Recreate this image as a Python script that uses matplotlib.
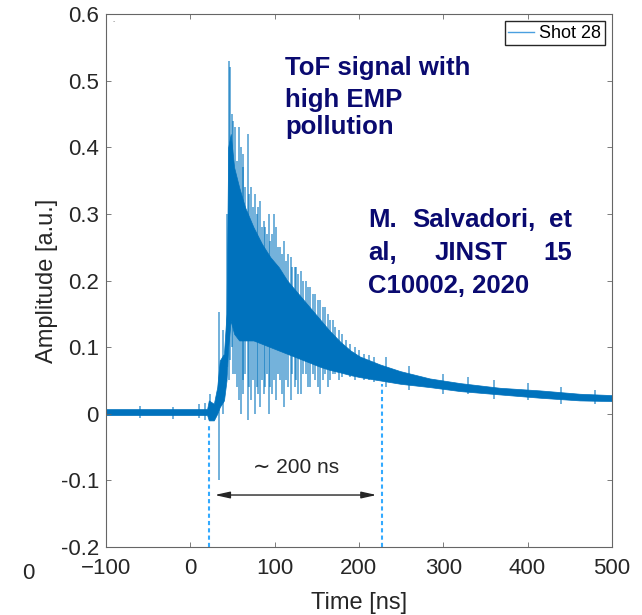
import matplotlib
matplotlib.use("Agg")
import matplotlib.pyplot as plt
from matplotlib.lines import Line2D

plt.rcParams["font.family"] = ["Liberation Sans", "DejaVu Sans"]

C_SIGNAL = "#0072BD"
C_MARK = "#33AAFF"
C_NAVY = "#0A0A70"
C_TEXT = "#262626"

# dense core of the ToF trace (time in ns, amplitude in a.u.)
TIME_ENV = [-100, 20, 22, 28, 32, 35, 40, 43, 45, 48, 52, 58, 65, 75, 85, 95,
            105, 115, 125, 135, 145, 155, 165, 178, 190, 201, 225, 249, 284,
            320, 367, 415, 462, 500]
ENV_LO = [-0.002, -0.002, -0.010, -0.010, 0.000, 0.010, 0.020, 0.050, 0.100,
          0.140, 0.120, 0.110, 0.110, 0.110, 0.105, 0.100, 0.095, 0.090,
          0.085, 0.080, 0.075, 0.070, 0.066, 0.062, 0.058, 0.055, 0.050,
          0.045, 0.040, 0.034, 0.029, 0.024, 0.020, 0.019]
ENV_HI = [0.007, 0.007, 0.020, 0.015, 0.040, 0.080, 0.090, 0.150, 0.400,
          0.420, 0.370, 0.340, 0.310, 0.280, 0.255, 0.235, 0.220, 0.200,
          0.185, 0.170, 0.155, 0.140, 0.125, 0.108, 0.095, 0.086, 0.074,
          0.064, 0.053, 0.046, 0.039, 0.035, 0.030, 0.028]

# isolated EMP spikes sticking out of the core
SPIKE_T = [-60, -20, 10, 18, 23, 34, 39,
           44, 46, 47, 49, 51, 53, 55, 58, 60, 62, 63, 65, 68, 70, 72, 74,
           77, 79, 80, 83, 85, 87, 89, 91, 93, 95, 97, 99, 102, 104, 107,
           109, 111, 113, 116, 119, 121, 124, 126, 128, 131, 134, 137, 140,
           142, 145, 148, 151, 154, 157, 160, 163, 166, 169, 172, 176, 180,
           185, 190, 195, 200, 206, 212, 218,
           232, 260, 300, 330, 360, 400, 440, 480]
SPIKE_LO = [-0.006, -0.008, -0.006, -0.010, -0.010, -0.100, 0.000,
            0.07, 0.05, 0.08, 0.10, 0.06, 0.06, 0.04, 0.02, 0.00, 0.05, 0.03,
            0.06, -0.01, 0.04, 0.02, 0.05, 0.00, 0.04, 0.03, 0.01, 0.05,
            0.03, 0.04, 0.06, 0.00, 0.04, 0.03, 0.05, 0.02, 0.06, 0.05, 0.03,
            0.01, 0.05, 0.04, 0.02, 0.06, 0.04, 0.05, 0.03, 0.03, 0.06, 0.06,
            0.04, 0.04, 0.06, 0.05, 0.04, 0.03, 0.05, 0.06, 0.04, 0.05, 0.06,
            0.06, 0.05, 0.055, 0.06, 0.055, 0.05, 0.055, 0.05, 0.05, 0.048,
            0.040, 0.035, 0.030, 0.030, 0.022, 0.020, 0.015, 0.014]
SPIKE_HI = [0.012, 0.010, 0.014, 0.016, 0.030, 0.153, 0.126,
            0.30, 0.53, 0.52, 0.45, 0.44, 0.43, 0.38, 0.43, 0.40, 0.37, 0.39,
            0.34, 0.42, 0.33, 0.34, 0.31, 0.33, 0.30, 0.31, 0.32, 0.28, 0.29,
            0.28, 0.27, 0.30, 0.26, 0.27, 0.30, 0.28, 0.25, 0.25, 0.24, 0.26,
            0.23, 0.24, 0.235, 0.22, 0.22, 0.22, 0.21, 0.215, 0.20, 0.20,
            0.19, 0.19, 0.18, 0.18, 0.17, 0.17, 0.16, 0.16, 0.15, 0.14, 0.14,
            0.13, 0.125, 0.12, 0.11, 0.105, 0.10, 0.095, 0.09, 0.088, 0.085,
            0.085, 0.072, 0.060, 0.055, 0.050, 0.046, 0.040, 0.036]

# dashed markers of the ~200 ns window
MARK_T = [22, 227]
MARK_TOP = [-0.016, 0.045]
ARROW_T = [29, 221]
ARROW_Y = -0.122

X_TICKS = [-100, 0, 100, 200, 300, 400, 500]
Y_TICKS = [-0.2, -0.1, 0, 0.1, 0.2, 0.3, 0.4, 0.5, 0.6]
Y_TICKLABELS = ["-0.2", "-0.1", "0", "0.1", "0.2", "0.3", "0.4", "0.5", "0.6"]

fig = plt.figure(figsize=(6.42, 6.15), dpi=100)
ax = fig.add_axes([0.165, 0.1106, 0.788, 0.8666])

ax.fill_between(TIME_ENV, ENV_LO, ENV_HI, color=C_SIGNAL, linewidth=0.5,
                edgecolor=C_SIGNAL)
ax.vlines(SPIKE_T, SPIKE_LO, SPIKE_HI, color=C_SIGNAL, linewidth=1.2,
          alpha=0.65)

ax.vlines(MARK_T, -0.2, MARK_TOP, color=C_MARK, linewidth=1.5,
          linestyles=(0, (2, 1.5)))
ax.annotate("", xy=(ARROW_T[1], ARROW_Y), xytext=(ARROW_T[0], ARROW_Y),
            arrowprops=dict(arrowstyle="<|-|>,head_width=0.2,head_length=0.9",
                            color=C_TEXT, lw=1.0, shrinkA=0, shrinkB=0))
ax.text(sum(ARROW_T) / 2, -0.08, "\u223c 200 ns", ha="center", va="center",
        fontsize=15, color=C_TEXT)

ax.set_xlim(-100, 500)
ax.set_ylim(-0.2, 0.6)
ax.set_xticks(X_TICKS)
ax.set_yticks(Y_TICKS)
ax.set_yticklabels(Y_TICKLABELS)
ax.tick_params(direction="in", length=3.5, width=0.6, colors="#666666",
               labelcolor=C_TEXT, labelsize=16, top=True, right=True)
ax.tick_params(axis="x", pad=8)
ax.tick_params(axis="y", pad=5)
for sp in ax.spines.values():
    sp.set_color("#666666")
    sp.set_linewidth(0.8)

ax.set_xlabel("Time [ns]", fontsize=17, color=C_TEXT)
ax.set_ylabel("Amplitude [a.u.]", fontsize=17, color=C_TEXT)
ax.xaxis.set_label_coords(0.5, -0.085)
ax.yaxis.set_label_coords(-0.095, 0.5)

leg_line = Line2D([], [], color="#4A9FE0", linewidth=1.0)
ax.legend([leg_line], ["Shot 28"], loc="upper right", fontsize=13,
          frameon=True, fancybox=False, edgecolor=C_TEXT, framealpha=1,
          handlelength=1.4, handletextpad=0.3, borderpad=0.2,
          borderaxespad=0.4)

bold = dict(fontsize=18.5, fontweight="bold", color=C_NAVY,
            transform=ax.transAxes, va="baseline")
ax.text(0.354, 0.886, "ToF signal with", ha="left", **bold)
ax.text(0.354, 0.826, "high EMP", ha="left", **bold)
ax.text(0.354, 0.775, "pollution", ha="left", **bold)

ax.text(0.518, 0.600, "M.", ha="left", **bold)
ax.text(0.727, 0.600, "Salvadori,", ha="center", **bold)
ax.text(0.921, 0.600, "et", ha="right", **bold)
ax.text(0.518, 0.538, "al,", ha="left", **bold)
ax.text(0.721, 0.538, "JINST", ha="center", **bold)
ax.text(0.921, 0.538, "15", ha="right", **bold)
ax.text(0.518, 0.477, "C10002, 2020", ha="left", **bold)

# stray marks present in the source figure
fig.text(0.044, 0.068, "0", fontsize=16, color=C_TEXT, ha="center", va="center")
ax.text(0.016, 0.985, "-", fontsize=5, color="#888888", transform=ax.transAxes,
        ha="center", va="center")

fig.savefig("out.png", dpi=100)
